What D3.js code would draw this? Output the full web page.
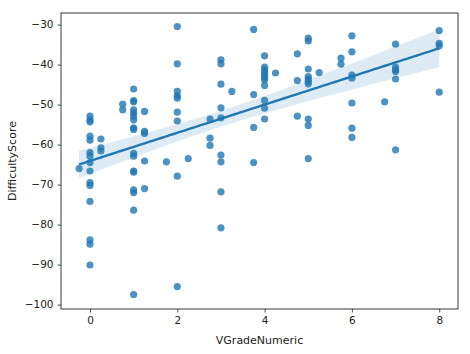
<!DOCTYPE html>
<html><head><meta charset="utf-8">
<script src="https://cdn.jsdelivr.net/npm/d3@7"></script>
<style>body{margin:0;background:#fff}svg{display:block}text{font-family:"DejaVu Sans",sans-serif}</style>
</head><body><svg id="c" width="470" height="354"></svg>
<script>
const vgrade = [-0.25,
 0,0,0,0,0,0,0,0,0,0,0,0,0,0,0,
 0.25,0.25,0.25,
 0.75,0.75,
 1,1,1,1,1,1,1,1,1,1,1,1,1,1,1,1,1,
 1.25,1.25,1.25,1.25,1.25,
 1.75,
 2,2,2,2,2,2,2,2,2,
 2.25,
 2.75,2.75,2.75,
 3,3,3,3,3,3,3,3,3,
 3.25,
 3.75,3.75,3.75,3.75,
 4,4,4,4,4,4,4,4,4,4,4,
 4.25,
 4.75,4.75,4.75,
 5,5,5,5,5,5,5,5,5,5,
 5.25,
 5.75,5.75,
 6,6,6,6,6,6,6,
 6.75,
 7,7,7,7,7,7,
 8,8,8,8];
const difficulty = [-66,
 -52.9,-53.8,-54.3,-57.9,-58.9,-62,-62.9,-64.5,-66.6,-69.5,-70.2,-74.2,-83.8,-84.9,-90.1,
 -58.6,-60.8,-61.6,
 -49.9,-51.3,
 -46.1,-49,-49.3,-51.3,-52.1,-52.9,-53.8,-55.8,-56.2,-62.2,-62.9,-66.6,-66.9,-71.3,-72,-76.4,-97.5,
 -51.7,-56.7,-57.2,-64.1,-71,
 -64.3,
 -30.5,-39.8,-46.7,-47.8,-48.4,-51.9,-54.1,-67.9,-95.5,
 -63.5,
 -53.6,-58.4,-60.2,
 -38.8,-39.8,-44.9,-50.8,-53.3,-62.6,-64.3,-71.8,-80.8,
 -46.7,
 -31.2,-47.5,-55.7,-64.5,
 -37.8,-40.6,-41.3,-41.9,-42.6,-43.2,-43.8,-45.2,-48.95,-50.9,-53.6,
 -42.1,
 -37.3,-44,-52.9,
 -33.4,-34.1,-41.1,-43,-43.6,-44.2,-44.8,-53.6,-55.2,-63.5,
 -42,
 -38.4,-39.9,
 -32.8,-36.8,-42.6,-43.4,-49.6,-55.9,-58.2,
 -49.3,
 -34.9,-40.6,-41.3,-41.7,-43.6,-61.3,
 -31.5,-34.7,-35.3,-46.9];
const xTicks = [0,2,4,6,8];
const yTicks = [-100,-90,-80,-70,-60,-50,-40,-30];

const W=470,H=354, L=61,R=458,T=13,B=309;
const svg=d3.select("#c");
const x=d3.scaleLinear().domain([-0.664,8.43]).range([L,R]);
const y=d3.scaleLinear().domain([-101.1,-27.1]).range([B,T]);
const col="#1f77b4";

// regression
const n=vgrade.length;
const mx=d3.mean(vgrade), my=d3.mean(difficulty);
let sxx=0,sxy=0; for(let i=0;i<n;i++){sxx+=(vgrade[i]-mx)**2;sxy+=(vgrade[i]-mx)*(difficulty[i]-my);}
const b=sxy/sxx, a=my-b*mx;
let sse=0; for(let i=0;i<n;i++){sse+=(difficulty[i]-a-b*vgrade[i])**2;}
const s=Math.sqrt(sse/(n-2)), tc=1.98;
const xs=d3.range(0,101).map(i=>d3.min(vgrade)+(d3.max(vgrade)-d3.min(vgrade))*i/100);
const band=xs.map(v=>{const se=s*Math.sqrt(1/n+(v-mx)**2/sxx);const yh=a+b*v;return {v,lo:yh-tc*se,hi:yh+tc*se,yh};});

const g=svg.append("g");
g.selectAll("circle").data(vgrade.map((v,i)=>[v,difficulty[i]])).enter().append("circle")
 .attr("cx",d=>x(d[0])).attr("cy",d=>y(d[1])).attr("r",3.6)
 .attr("fill",col).attr("fill-opacity",0.8);
svg.append("path").datum(band).attr("fill",col).attr("fill-opacity",0.15)
 .attr("d",d3.area().x(d=>x(d.v)).y0(d=>y(d.lo)).y1(d=>y(d.hi)));
svg.append("path").datum(band).attr("fill","none").attr("stroke",col).attr("stroke-width",2.4)
 .attr("d",d3.line().x(d=>x(d.v)).y(d=>y(d.yh)));

const fmt=d=>d<0?"\u2212"+Math.abs(d):String(d);
const xa=svg.append("g").attr("transform",`translate(0,${B})`).call(d3.axisBottom(x).tickValues(xTicks).tickFormat(fmt).tickSize(3.5).tickPadding(4));
const ya=svg.append("g").attr("transform",`translate(${L},0)`).call(d3.axisLeft(y).tickValues(yTicks).tickFormat(fmt).tickSize(3.5).tickPadding(4));
[xa,ya].forEach(a=>{a.select(".domain").remove();a.selectAll("text").attr("font-size",10.5).attr("fill","#222").style("font-family","DejaVu Sans");a.selectAll("line").attr("stroke","#222").attr("stroke-width",0.8);});
svg.append("rect").attr("x",L).attr("y",T).attr("width",R-L).attr("height",B-T).attr("fill","none").attr("stroke","#222").attr("stroke-width",0.9);
svg.append("text").attr("x",(L+R)/2).attr("y",344).attr("text-anchor","middle").attr("font-size",11).attr("fill","#222").text("VGradeNumeric");
svg.append("text").attr("transform",`translate(16,${(T+B)/2}) rotate(-90)`).attr("text-anchor","middle").attr("font-size",11).attr("fill","#222").text("DifficultyScore");
</script></body></html>
